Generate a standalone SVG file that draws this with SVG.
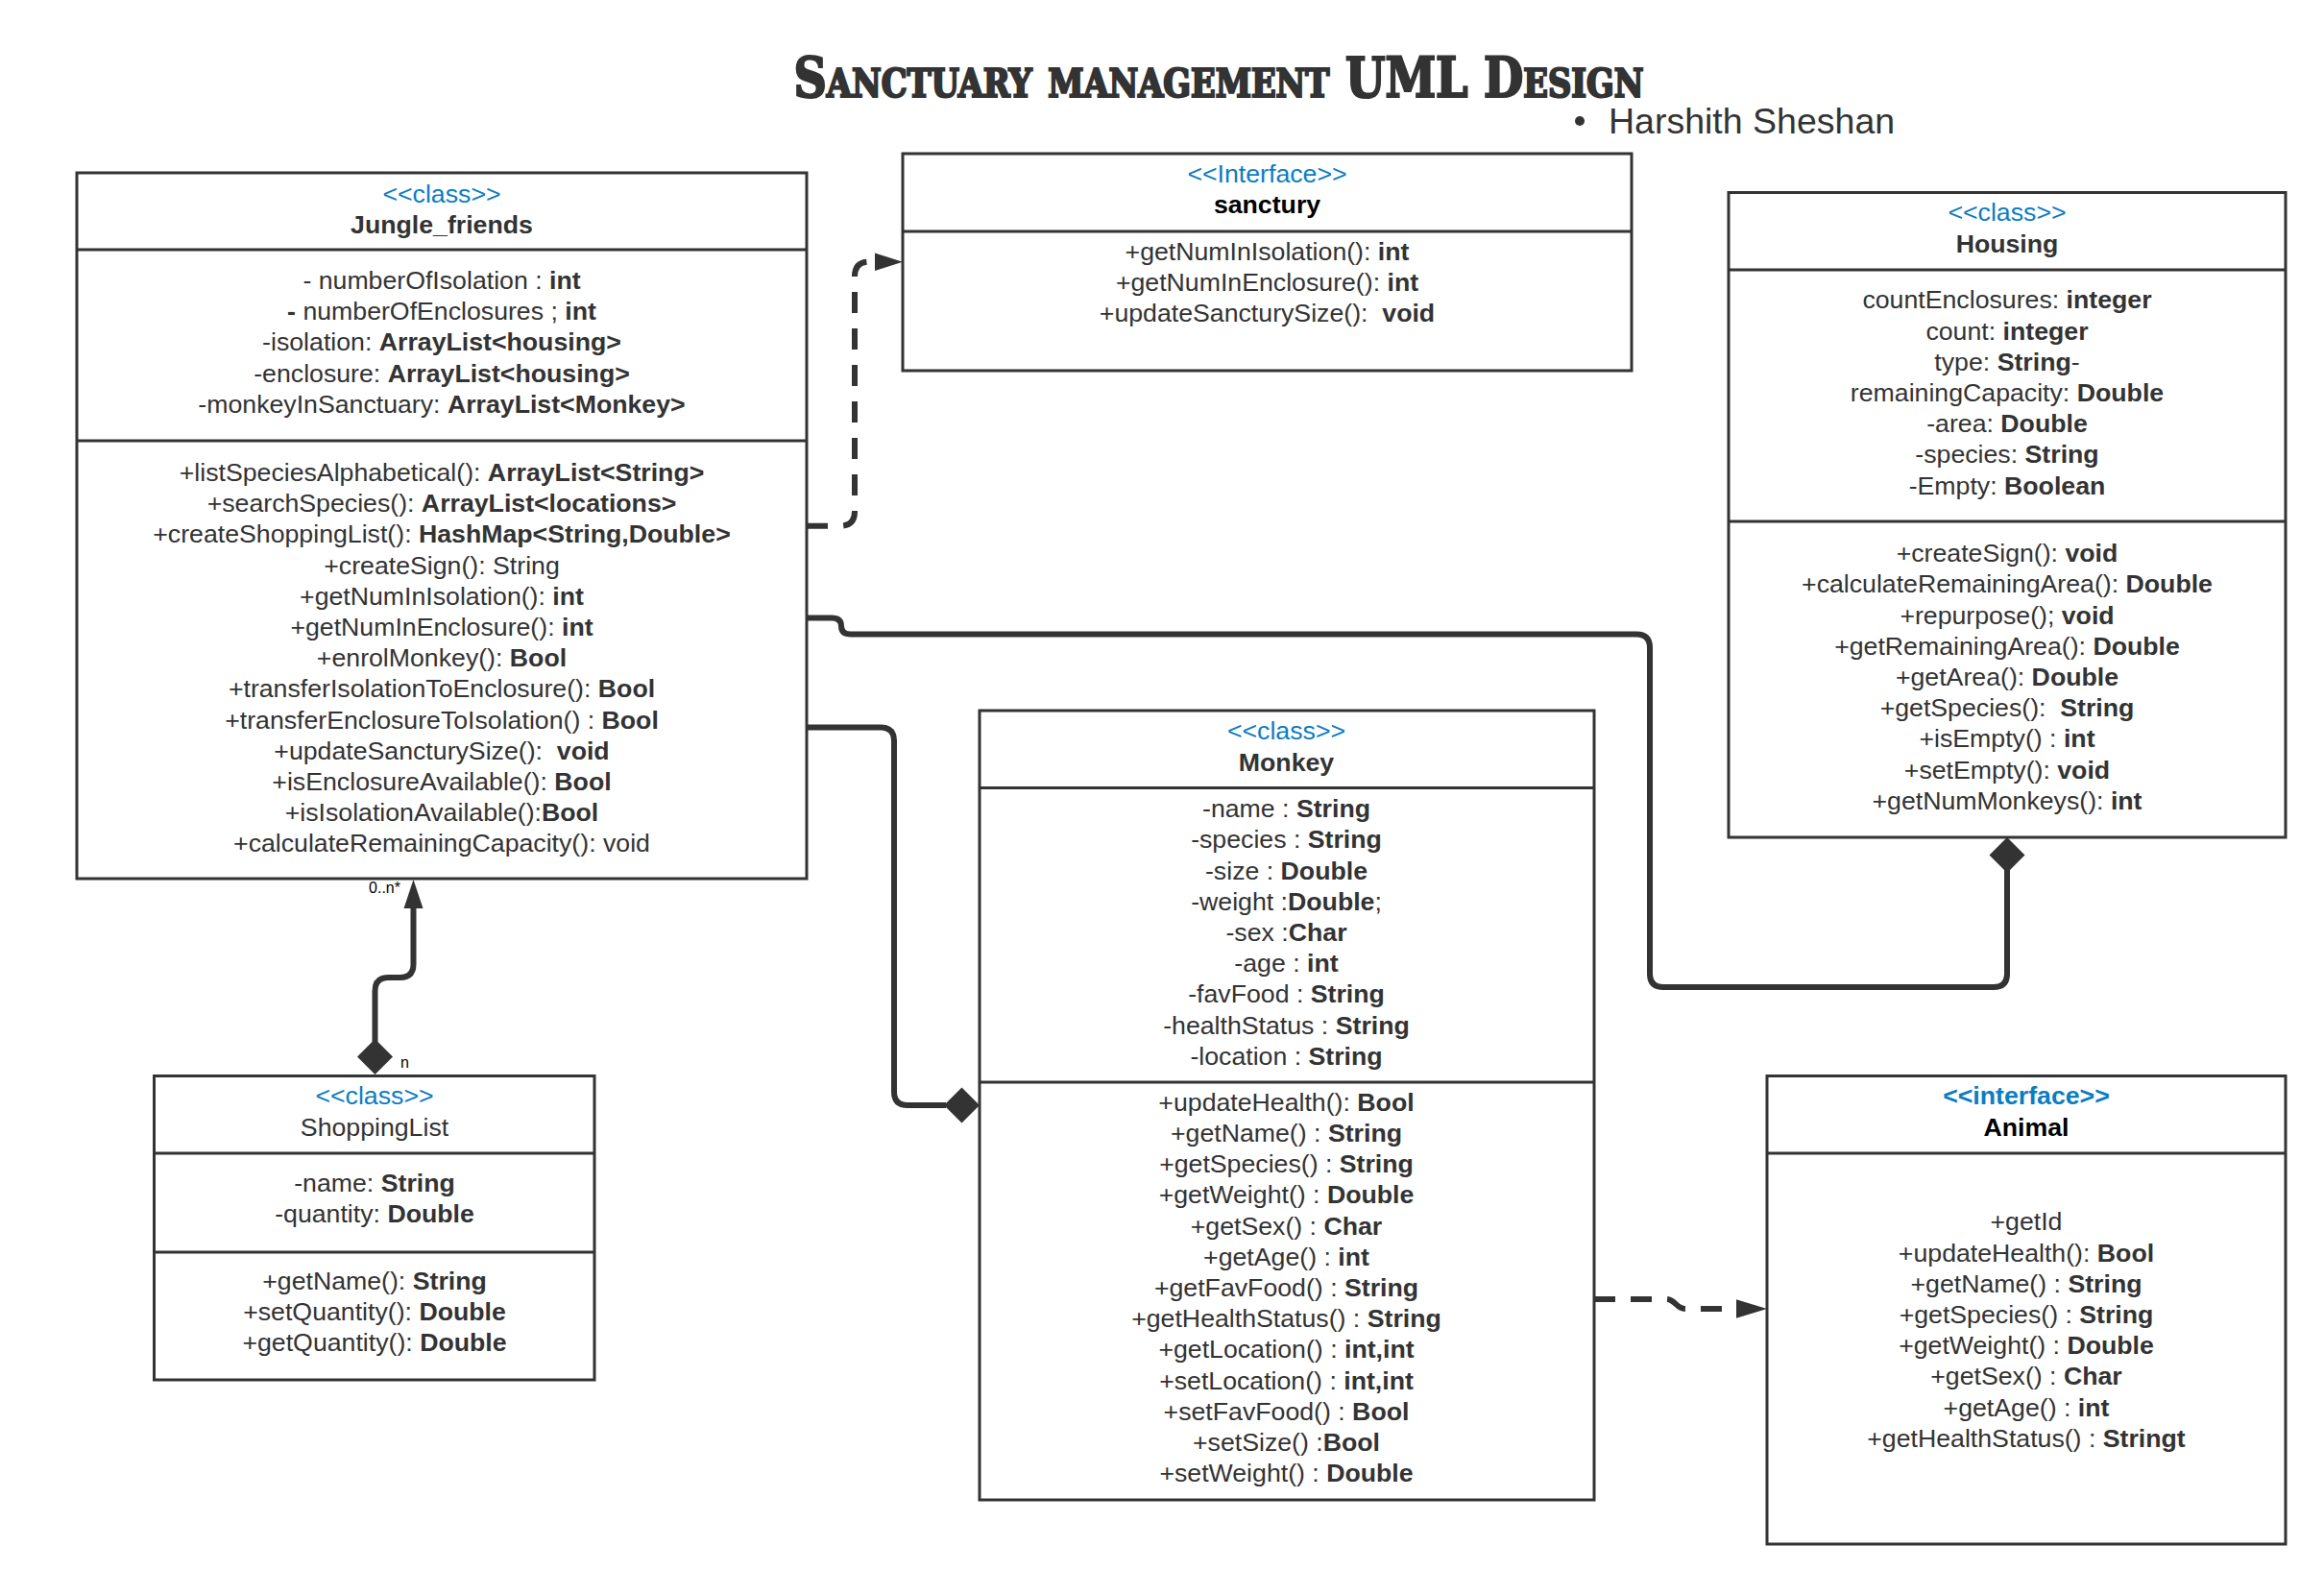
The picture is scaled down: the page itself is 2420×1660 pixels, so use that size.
<svg xmlns="http://www.w3.org/2000/svg" width="2420" height="1660" viewBox="0 0 2420 1660">
<style>
text{font-family:"Liberation Sans",Arial,sans-serif;font-size:26.7px;fill:#333333;text-anchor:middle}
.b{font-weight:bold}
.st{fill:#0B7DC1}
.nm{font-weight:bold}
.blk{fill:#000000}
.box{fill:#ffffff;stroke:#333333;stroke-width:3}
.div{stroke:#333333;stroke-width:3}
.con{fill:none;stroke:#333333;stroke-width:6}
.dash{stroke-dasharray:22 16}
.head{fill:#333333;stroke:none}
.lbl{font-size:16px;fill:#000000}
</style>
<rect width="2420" height="1660" fill="#ffffff"/>
<text x="1269" y="101" style="font-family:'DejaVu Serif',serif;font-weight:bold;font-stretch:condensed;font-variant:small-caps;font-size:58px;stroke:#333333;stroke-width:2.2" textLength="885" lengthAdjust="spacingAndGlyphs">Sanctuary management UML Design</text>
<circle cx="1645" cy="126" r="5" fill="#333333"/>
<text x="1675" y="139" style="font-size:37.5px;text-anchor:start">Harshith Sheshan</text>

<g id="connectors">
<path class="con dash" d="M840,547.7 H875 Q890,547.7 890,532.7 V287.7 Q890,272.7 905,272.7 H912"/>
<polygon class="head" points="911,263.5 940,272.7 911,282"/>
<path class="con" d="M840,643.5 H866 Q876,643.5 876,652 Q876,660.5 886,660.5 H1704 Q1718,660.5 1718,674.5 V1014 Q1718,1028 1732,1028 H2076 Q2090,1028 2090,1014 V906"/>
<polygon class="head" points="2090,872 2108.5,890.5 2090,909 2071.5,890.5"/>
<path class="con" d="M840,757.5 H917 Q931,757.5 931,771.5 V1137 Q931,1151 945,1151 H985"/>
<polygon class="head" points="983,1151 1001.5,1132.5 1020,1151 1001.5,1169.5"/>
<path class="con" d="M390.5,1085 V1032 Q390.5,1018 404.5,1018 H416.5 Q430.5,1018 430.5,1004 V944"/>
<polygon class="head" points="420.5,946 430.5,916 440.5,946"/>
<polygon class="head" points="390.5,1082 409,1100.5 390.5,1119 372,1100.5"/>
<text class="lbl" x="417" y="930" style="text-anchor:end">0..n*</text>
<text class="lbl" x="417" y="1112" style="text-anchor:start">n</text>
<path class="con dash" d="M1660,1353 H1735 C1745,1353 1745,1363 1755,1363 H1810"/>
<polygon class="head" points="1808,1353.3 1840,1363 1808,1372.7"/>
</g>

<g id="Jungle_friends">
<rect class="box" x="80" y="180" width="760" height="735"/>
<line class="div" x1="80" y1="260" x2="840" y2="260"/>
<line class="div" x1="80" y1="459" x2="840" y2="459"/>
<text class="st" x="460" y="211">&lt;&lt;class&gt;&gt;</text>
<text class="nm" x="460" y="243">Jungle_friends</text>
<text x="460" y="301">- numberOfIsolation : <tspan class="b">int</tspan></text>
<text x="460" y="333.2"><tspan class="b">-</tspan> numberOfEnclosures ; <tspan class="b">int</tspan></text>
<text x="460" y="365.4">-isolation: <tspan class="b">ArrayList&lt;housing&gt;</tspan></text>
<text x="460" y="397.6">-enclosure: <tspan class="b">ArrayList&lt;housing&gt;</tspan></text>
<text x="460" y="429.8">-monkeyInSanctuary: <tspan class="b">ArrayList&lt;Monkey&gt;</tspan></text>
<text x="460" y="501">+listSpeciesAlphabetical(): <tspan class="b">ArrayList&lt;String&gt;</tspan></text>
<text x="460" y="533.2">+searchSpecies(): <tspan class="b">ArrayList&lt;locations&gt;</tspan></text>
<text x="460" y="565.4">+createShoppingList(): <tspan class="b">HashMap&lt;String,Double&gt;</tspan></text>
<text x="460" y="597.6">+createSign(): String</text>
<text x="460" y="629.8">+getNumInIsolation(): <tspan class="b">int</tspan></text>
<text x="460" y="662">+getNumInEnclosure(): <tspan class="b">int</tspan></text>
<text x="460" y="694.2">+enrolMonkey(): <tspan class="b">Bool</tspan></text>
<text x="460" y="726.4">+transferIsolationToEnclosure(): <tspan class="b">Bool</tspan></text>
<text x="460" y="758.6">+transferEnclosureToIsolation() : <tspan class="b">Bool</tspan></text>
<text x="460" y="790.8" xml:space="preserve">+updateSancturySize():  <tspan class="b">void</tspan></text>
<text x="460" y="823">+isEnclosureAvailable(): <tspan class="b">Bool</tspan></text>
<text x="460" y="855.2">+isIsolationAvailable():<tspan class="b">Bool</tspan></text>
<text x="460" y="887.4">+calculateRemainingCapacity(): void</text>
</g>

<g id="sanctury">
<rect class="box" x="940" y="160" width="759" height="226"/>
<line class="div" x1="940" y1="241" x2="1699" y2="241"/>
<text class="st" x="1319.5" y="190">&lt;&lt;Interface&gt;&gt;</text>
<text class="nm blk" x="1319.5" y="222">sanctury</text>
<text x="1319.5" y="270.5">+getNumInIsolation(): <tspan class="b">int</tspan></text>
<text x="1319.5" y="302.5">+getNumInEnclosure(): <tspan class="b">int</tspan></text>
<text x="1319.5" y="334.5" xml:space="preserve">+updateSancturySize():  <tspan class="b">void</tspan></text>
</g>

<g id="Housing">
<rect class="box" x="1800" y="200.5" width="580" height="671.5"/>
<line class="div" x1="1800" y1="281" x2="2380" y2="281"/>
<line class="div" x1="1800" y1="543" x2="2380" y2="543"/>
<text class="st" x="2090" y="230">&lt;&lt;class&gt;&gt;</text>
<text class="nm" x="2090" y="262.5">Housing</text>
<text x="2090" y="321.3">countEnclosures: <tspan class="b">integer</tspan></text>
<text x="2090" y="353.5">count: <tspan class="b">integer</tspan></text>
<text x="2090" y="385.7">type: <tspan class="b">String</tspan>-</text>
<text x="2090" y="417.9">remainingCapacity: <tspan class="b">Double</tspan></text>
<text x="2090" y="450.1">-area: <tspan class="b">Double</tspan></text>
<text x="2090" y="482.3">-species: <tspan class="b">String</tspan></text>
<text x="2090" y="514.5">-Empty: <tspan class="b">Boolean</tspan></text>
<text x="2090" y="585.2">+createSign(): <tspan class="b">void</tspan></text>
<text x="2090" y="617.4">+calculateRemainingArea(): <tspan class="b">Double</tspan></text>
<text x="2090" y="649.6">+repurpose(); <tspan class="b">void</tspan></text>
<text x="2090" y="681.8">+getRemainingArea(): <tspan class="b">Double</tspan></text>
<text x="2090" y="714">+getArea(): <tspan class="b">Double</tspan></text>
<text x="2090" y="746.2" xml:space="preserve">+getSpecies():  <tspan class="b">String</tspan></text>
<text x="2090" y="778.4">+isEmpty() : <tspan class="b">int</tspan></text>
<text x="2090" y="810.6">+setEmpty(): <tspan class="b">void</tspan></text>
<text x="2090" y="842.8">+getNumMonkeys(): <tspan class="b">int</tspan></text>
</g>

<g id="Monkey">
<rect class="box" x="1020" y="740" width="640" height="822"/>
<line class="div" x1="1020" y1="820.5" x2="1660" y2="820.5"/>
<line class="div" x1="1020" y1="1127" x2="1660" y2="1127"/>
<text class="st" x="1339.5" y="770">&lt;&lt;class&gt;&gt;</text>
<text class="nm" x="1339.5" y="803">Monkey</text>
<text x="1339.5" y="851.2">-name : <tspan class="b">String</tspan></text>
<text x="1339.5" y="883.4">-species : <tspan class="b">String</tspan></text>
<text x="1339.5" y="915.6">-size : <tspan class="b">Double</tspan></text>
<text x="1339.5" y="947.8">-weight :<tspan class="b">Double</tspan>;</text>
<text x="1339.5" y="980">-sex :<tspan class="b">Char</tspan></text>
<text x="1339.5" y="1012.2">-age : <tspan class="b">int</tspan></text>
<text x="1339.5" y="1044.4">-favFood : <tspan class="b">String</tspan></text>
<text x="1339.5" y="1076.6">-healthStatus : <tspan class="b">String</tspan></text>
<text x="1339.5" y="1108.8">-location : <tspan class="b">String</tspan></text>
<text x="1339.5" y="1156.8">+updateHealth(): <tspan class="b">Bool</tspan></text>
<text x="1339.5" y="1189">+getName() : <tspan class="b">String</tspan></text>
<text x="1339.5" y="1221.2">+getSpecies() : <tspan class="b">String</tspan></text>
<text x="1339.5" y="1253.4">+getWeight() : <tspan class="b">Double</tspan></text>
<text x="1339.5" y="1285.6">+getSex() : <tspan class="b">Char</tspan></text>
<text x="1339.5" y="1317.8">+getAge() : <tspan class="b">int</tspan></text>
<text x="1339.5" y="1350">+getFavFood() : <tspan class="b">String</tspan></text>
<text x="1339.5" y="1382.2">+getHealthStatus() : <tspan class="b">String</tspan></text>
<text x="1339.5" y="1414.4">+getLocation() : <tspan class="b">int,int</tspan></text>
<text x="1339.5" y="1446.6">+setLocation() : <tspan class="b">int,int</tspan></text>
<text x="1339.5" y="1478.8">+setFavFood() : <tspan class="b">Bool</tspan></text>
<text x="1339.5" y="1511">+setSize() :<tspan class="b">Bool</tspan></text>
<text x="1339.5" y="1543.2">+setWeight() : <tspan class="b">Double</tspan></text>
</g>

<g id="ShoppingList">
<rect class="box" x="160.5" y="1120.5" width="458.5" height="316.5"/>
<line class="div" x1="160.5" y1="1201" x2="619" y2="1201"/>
<line class="div" x1="160.5" y1="1304" x2="619" y2="1304"/>
<text class="st" x="390" y="1150">&lt;&lt;class&gt;&gt;</text>
<text x="390" y="1182.5">ShoppingList</text>
<text x="390" y="1241">-name: <tspan class="b">String</tspan></text>
<text x="390" y="1273.2">-quantity: <tspan class="b">Double</tspan></text>
<text x="390" y="1343">+getName(): <tspan class="b">String</tspan></text>
<text x="390" y="1375.2">+setQuantity(): <tspan class="b">Double</tspan></text>
<text x="390" y="1407.4">+getQuantity(): <tspan class="b">Double</tspan></text>
</g>

<g id="Animal">
<rect class="box" x="1840" y="1120.5" width="540" height="487.5"/>
<line class="div" x1="1840" y1="1201" x2="2380" y2="1201"/>
<text class="st b" x="2110" y="1150">&lt;&lt;interface&gt;&gt;</text>
<text class="nm blk" x="2110" y="1182.5">Animal</text>
<text x="2110" y="1281.3">+getId</text>
<text x="2110" y="1313.5">+updateHealth(): <tspan class="b">Bool</tspan></text>
<text x="2110" y="1345.7">+getName() : <tspan class="b">String</tspan></text>
<text x="2110" y="1377.9">+getSpecies() : <tspan class="b">String</tspan></text>
<text x="2110" y="1410.1">+getWeight() : <tspan class="b">Double</tspan></text>
<text x="2110" y="1442.3">+getSex() : <tspan class="b">Char</tspan></text>
<text x="2110" y="1474.5">+getAge() : <tspan class="b">int</tspan></text>
<text x="2110" y="1506.7">+getHealthStatus() : <tspan class="b">Stringt</tspan></text>
</g>
</svg>
